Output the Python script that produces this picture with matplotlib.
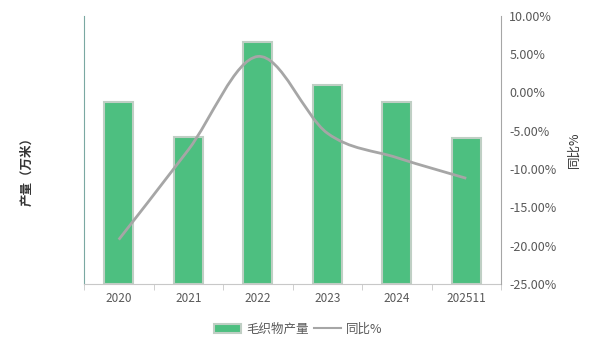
import numpy as np
import matplotlib
matplotlib.use("Agg")
import matplotlib.pyplot as plt
from matplotlib.path import Path
from matplotlib.patches import PathPatch, Patch
from matplotlib.lines import Line2D
from matplotlib.ticker import FuncFormatter

plt.rcParams['font.family'] = ['Noto Sans CJK SC', 'DejaVu Sans']

years = ['2020', '2021', '2022', '2023', '2024', '202511']
output = [47500, 38400, 63200, 52000, 47500, 38100]   # 万米 (estimated, axis unlabeled)
yoy = [-19.2, -7.5, 4.7, -5.3, -8.5, -11.2]           # %

bar_color = '#4dbf80'
edge_color = '#bfcfc4'
line_color = '#a6a6a6'
text_color = '#595959'

fig = plt.figure(figsize=(6, 3.52), dpi=100)
ax = fig.add_axes([0.14, 0.193, 0.695, 0.762])
x = np.arange(len(years))
ax.bar(x, output, width=0.42, color=bar_color, edgecolor=edge_color, linewidth=1.5, zorder=2)
ax.set_xlim(-0.5, len(years) - 0.5)
ax.set_ylim(0, 70000)
ax.set_yticks([])
ax.set_xticks(x)
ax.set_xticklabels(years, fontsize=8.5, color=text_color)
ax.set_xticks(np.arange(-0.5, len(years)), minor=True)
ax.tick_params(axis='x', which='major', length=0, pad=6)
ax.tick_params(axis='x', which='minor', length=4, color='#c8c8c8')
ax.spines['top'].set_visible(False)
ax.spines['right'].set_visible(False)
ax.spines['left'].set_color('#7aa8a2')
ax.spines['bottom'].set_color('#c8c8c8')
ax.set_ylabel('产量（万米）', fontsize=9, fontweight='bold', color='#333333')
ax.yaxis.set_label_coords(-0.122, 0.43)

ax2 = ax.twinx()
ax2.set_ylim(-25, 10)
ax2.set_yticks(np.arange(-25, 10.1, 5))
ax2.yaxis.set_major_formatter(FuncFormatter(lambda v, p: '%.2f%%' % v))
ax2.tick_params(axis='y', length=0, labelsize=9, labelcolor=text_color, pad=6)
for s in ['top', 'left', 'bottom']:
    ax2.spines[s].set_visible(False)
ax2.spines['right'].set_color('#a6a6a6')
ax2.set_ylabel('同比%', fontsize=9, color='#333333', rotation=90, labelpad=8)

# smooth curve through the yoy points (Catmull-Rom as cubic Bezier)
pts = np.column_stack([x, yoy]).astype(float)
verts = [tuple(pts[0])]
codes = [Path.MOVETO]
for i in range(len(pts) - 1):
    p0 = pts[i - 1] if i > 0 else pts[i]
    p1, p2 = pts[i], pts[i + 1]
    p3 = pts[i + 2] if i + 2 < len(pts) else pts[i + 1]
    c1 = p1 + (p2 - p0) / 6
    c2 = p2 - (p3 - p1) / 6
    verts += [tuple(c1), tuple(c2), tuple(p2)]
    codes += [Path.CURVE4] * 3
ax2.add_patch(PathPatch(Path(verts, codes), facecolor='none', edgecolor=line_color, lw=2, zorder=3))

handles = [Patch(facecolor=bar_color, edgecolor=edge_color, linewidth=1.5),
           Line2D([], [], color=line_color, lw=1.5)]
fig.legend(handles, ['毛织物产量', '同比%'], loc='center', bbox_to_anchor=(0.497, 0.065), ncol=2,
           frameon=False, fontsize=9, labelcolor=text_color, handlelength=2.2, columnspacing=0.4,
           handletextpad=0.4)

fig.savefig('out.png', dpi=100)
